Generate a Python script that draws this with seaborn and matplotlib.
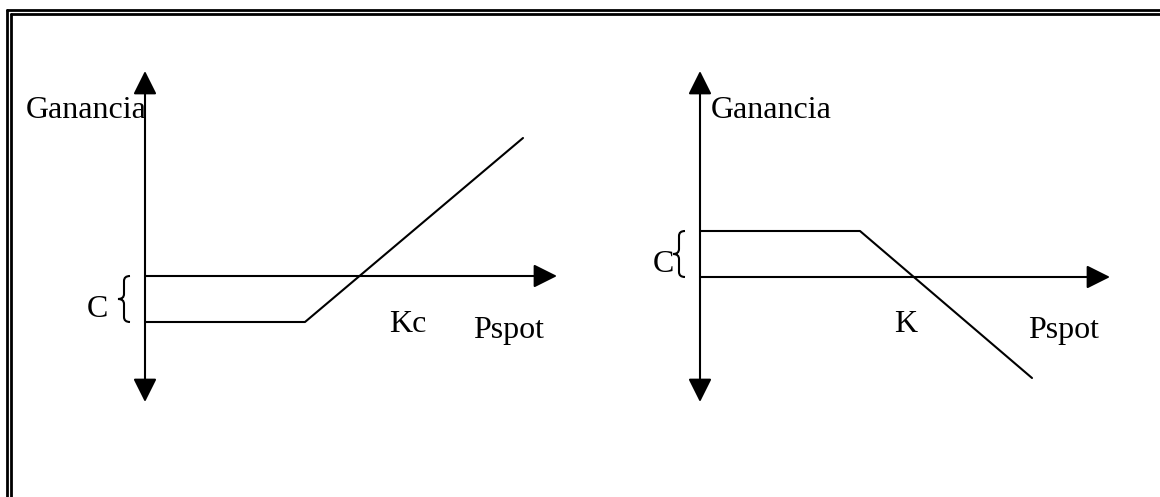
import numpy as np
import pandas as pd
import seaborn as sns
import matplotlib.pyplot as plt
from matplotlib.path import Path
from matplotlib.patches import PathPatch
from matplotlib.lines import Line2D

# payoff diagrams (units: spot price / profit, origin at axis crossing)
call_spot = [0, 160, 378]
call_profit = [-46, -46, 138]
put_spot = [0, 160, 332]
put_profit = [46, 46, -101]

axis_labels = ["Ganancia", "Pspot"]
premium_label = "C"
strike_labels = ["Kc", "K"]

sns.set_theme(style="white")
plt.rcParams['font.family'] = ['Liberation Serif', 'DejaVu Serif']
plt.rcParams['text.color'] = 'black'

fig = plt.figure(figsize=(11.6, 4.97), dpi=100)
ax = fig.add_axes([0, 0, 1, 1])
ax.set_xlim(0, 1160)
ax.set_ylim(497, 0)
ax.axis('off')

FS = 23
LW = 1.5

def panel(ox, oy, spot, profit, strike, strike_x, c_x, x_end):
    # payoff line through seaborn
    df = pd.DataFrame({'x': np.array(spot) + ox, 'y': oy - np.array(profit)})
    sns.lineplot(data=df, x='x', y='y', ax=ax, color='black', lw=LW,
                 sort=False, estimator=None)
    # axes with arrowheads
    ax.annotate("", xy=(ox, 71), xytext=(ox, 402),
                arrowprops=dict(arrowstyle='<|-|>,head_length=0.4,head_width=0.2',
                                mutation_scale=36, color='black', lw=LW,
                                shrinkA=0, shrinkB=0))
    ax.annotate("", xy=(ox + x_end, oy), xytext=(ox, oy),
                arrowprops=dict(arrowstyle='-|>,head_length=0.4,head_width=0.2',
                                mutation_scale=36, color='black', lw=LW,
                                shrinkA=0, shrinkB=0))
    # brace for premium
    p = profit[0]
    top, bot = (oy, oy - p) if p < 0 else (oy - p, oy)
    mid = (top + bot) / 2
    bx = ox - 21
    verts = [(bx + 6, top), (bx, top), (bx, top + 5), (bx, mid - 5),
             (bx, mid), (bx - 6, mid), (bx, mid), (bx, mid + 5),
             (bx, bot - 5), (bx, bot), (bx + 6, bot)]
    codes = [Path.MOVETO, Path.CURVE3, Path.CURVE3, Path.LINETO,
             Path.CURVE3, Path.CURVE3, Path.CURVE3, Path.CURVE3,
             Path.LINETO, Path.CURVE3, Path.CURVE3]
    ax.add_patch(PathPatch(Path(verts, codes), fill=False, lw=1.5, color='black'))
    ax.text(c_x, mid + 18, premium_label, fontsize=FS, va='baseline', ha='left')
    ax.text(strike_x, 332, strike, fontsize=FS, va='baseline', ha='left')
    ax.text(ox + 328, 338, axis_labels[1], fontsize=FS, va='baseline', ha='left')

panel(145, 276, call_spot, call_profit, strike_labels[0], 389, 87, 412)
panel(700, 277, put_spot, put_profit, strike_labels[1], 894, 653, 410)

ax.text(26, 118, axis_labels[0], fontsize=FS, va='baseline', ha='left')
ax.text(711, 118, axis_labels[0], fontsize=FS, va='baseline', ha='left')

# double frame on top and left
for x0, y0 in [(7, 10), (11, 14)]:
    fig.add_artist(Line2D([x0, 1160], [y0, y0], transform=ax.transData,
                          color='black', lw=2.0))
    fig.add_artist(Line2D([x0, x0], [y0, 497], transform=ax.transData,
                          color='black', lw=2.0))

fig.savefig("out.png", dpi=100)
